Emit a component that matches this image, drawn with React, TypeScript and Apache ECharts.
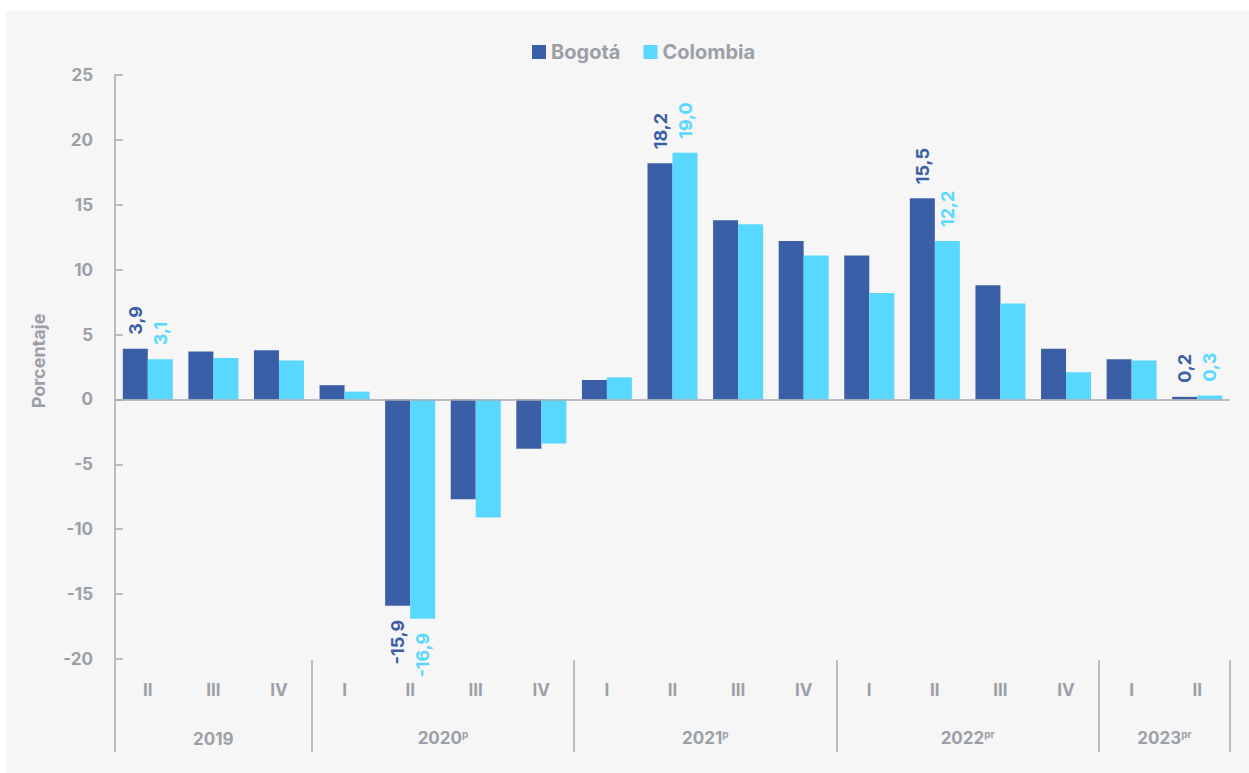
import React, { useEffect, useRef } from "react";
import * as echarts from "echarts";

const quarters = ["II", "III", "IV", "I", "II", "III", "IV", "I", "II", "III", "IV", "I", "II", "III", "IV", "I", "II"];
const bogota = [3.9, 3.7, 3.8, 1.1, -15.9, -7.7, -3.8, 1.5, 18.2, 13.8, 12.2, 11.1, 15.5, 8.8, 3.9, 3.1, 0.2];
const colombia = [3.1, 3.2, 3.0, 0.6, -16.9, -9.1, -3.4, 1.7, 19.0, 13.5, 11.1, 8.2, 12.2, 7.4, 2.1, 3.0, 0.3];
const labeledIdx = [0, 4, 8, 12, 16];
const years = ["2019", "2020", "2021", "2022", "2023"];
const yearMarks = ["", "p", "p", "pr", "pr"];
const yearCenters = [1.5, 5, 9, 13, 16];
const yearBounds = [0, 3, 7, 11, 15, 17];

const GRAY = "#9ba0a7";
const LINE = "#a6abb1";
const C_BOG = "#3a5fa6";
const C_COL = "#58d8ff";
const FONT = "Inter";

const fmt = (v: number) => v.toFixed(1).replace(".", ",");

function buildData(vals: number[], color: string) {
  return vals.map((v, i) => {
    if (!labeledIdx.includes(i)) return v;
    const neg = v < 0;
    return {
      value: v,
      label: {
        show: true,
        position: neg ? "bottom" : "top",
        rotate: 90,
        align: neg ? "right" : "left",
        verticalAlign: "middle",
        distance: 14,
        color,
        fontFamily: FONT,
        fontWeight: "bold",
        fontSize: 18,
        formatter: (p: any) => fmt(p.value),
      },
    };
  });
}

export default function App() {
  const ref = useRef<HTMLDivElement>(null);
  useEffect(() => {
    if (!ref.current) return;
    const chart = echarts.init(ref.current, undefined, { renderer: "svg" });
    chart.setOption({
      animation: false,
      backgroundColor: "#ffffff",
      graphic: [
        {
          type: "rect",
          z: -10,
          silent: true,
          shape: { x: 6, y: 11, width: 1243, height: 762 },
          style: { fill: "#f6f6f6" },
        },
      ],
      legend: {
        top: 37,
        left: 527,
        icon: "rect",
        itemWidth: 14,
        itemHeight: 14,
        itemGap: 23,
        textStyle: { color: GRAY, fontFamily: FONT, fontWeight: "bold", fontSize: 20 },
        data: ["Bogotá", "Colombia"],
      },
      grid: { left: 115, right: 19, top: 75, bottom: 114, containLabel: false },
      xAxis: [
        {
          type: "category",
          data: quarters,
          position: "bottom",
          axisLine: { show: false },
          axisTick: { show: false },
          axisLabel: { color: GRAY, fontFamily: FONT, fontWeight: "bold", fontSize: 17, margin: 22, interval: 0 },
        },
        {
          type: "value",
          min: 0,
          max: 17,
          position: "bottom",
          offset: 93,
          axisLine: { show: false },
          splitLine: { show: false },
          axisTick: {
            show: true,
            inside: true,
            length: 92,
            customValues: yearBounds,
            lineStyle: { color: LINE, width: 1.5 },
          },
          axisLabel: {
            inside: true,
            margin: 5,
            customValues: yearCenters,
            color: GRAY,
            fontFamily: FONT,
            fontWeight: "bold",
            fontSize: 17,
            formatter: (v: number) => {
              const i = yearCenters.indexOf(v);
              if (i < 0) return "";
              return yearMarks[i] ? `${years[i]}{s|${yearMarks[i]}}` : years[i];
            },
            rich: {
              s: { fontSize: 10, fontWeight: "bold", fontFamily: FONT, color: GRAY, padding: [0, 0, 8, 0] },
            },
          },
        },
      ],
      yAxis: {
        type: "value",
        min: -20,
        max: 25,
        interval: 5,
        name: "Porcentaje",
        nameLocation: "middle",
        nameGap: 68,
        nameRotate: 90,
        nameTextStyle: { color: GRAY, fontFamily: FONT, fontWeight: "bold", fontSize: 18, padding: [0, 0, 0, 12] },
        axisLine: { show: true, lineStyle: { color: LINE, width: 1.5 } },
        axisTick: { show: true, inside: true, length: 8, lineStyle: { color: LINE, width: 1.5 } },
        axisLabel: { color: GRAY, fontFamily: FONT, fontWeight: "bold", fontSize: 17, margin: 22 },
        splitLine: { show: false },
      },
      series: [
        {
          name: "Bogotá",
          type: "bar",
          xAxisIndex: 0,
          barWidth: 25,
          barGap: "0%",
          itemStyle: { color: C_BOG },
          data: buildData(bogota, C_BOG),
          markLine: {
            silent: true,
            symbol: "none",
            label: { show: false },
            lineStyle: { color: LINE, width: 1.5, type: "solid" },
            data: [{ yAxis: 0 }],
          },
        },
        {
          name: "Colombia",
          type: "bar",
          xAxisIndex: 0,
          barWidth: 25,
          barGap: "0%",
          itemStyle: { color: C_COL },
          data: buildData(colombia, C_COL),
        },
      ],
    });
    return () => chart.dispose();
  }, []);
  return (
    <div style={{ position: "absolute", left: 0, top: 0, width: 1249, height: 773 }}>
      <div ref={ref} style={{ width: 1249, height: 773 }} />
    </div>
  );
}
